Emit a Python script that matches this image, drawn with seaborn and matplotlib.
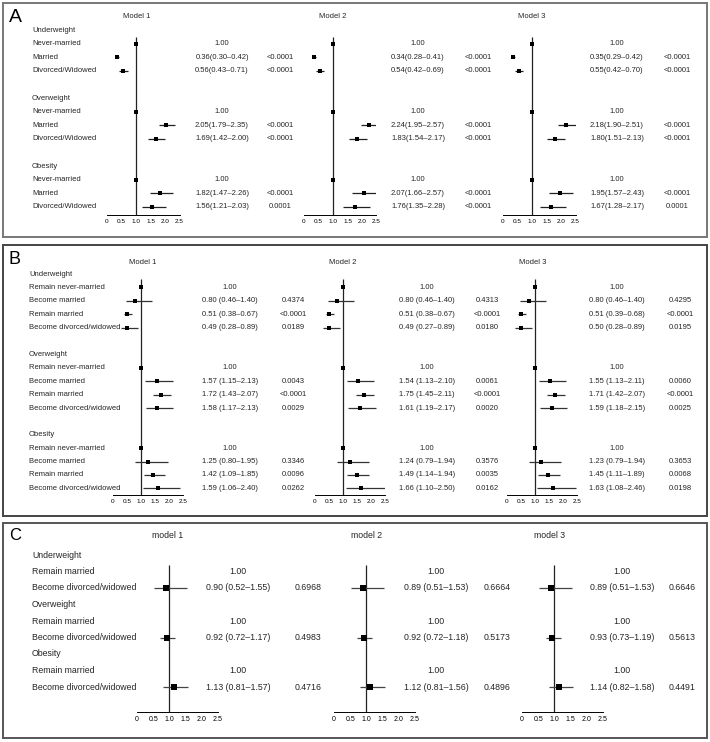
import numpy as np
import pandas as pd
import matplotlib
matplotlib.use("Agg")
import matplotlib.pyplot as plt
from matplotlib.patches import Rectangle
import seaborn as sns

# ---------------- data ----------------
A_groups = ["Underweight", "Overweight", "Obesity"]
A_cats = ["Never-married", "Married", "Divorced/Widowed"]
A_models = ["Model 1", "Model 2", "Model 3"]
A_or = [[1.00, 0.36, 0.56, 1.00, 2.05, 1.69, 1.00, 1.82, 1.56],
        [1.00, 0.34, 0.54, 1.00, 2.24, 1.83, 1.00, 2.07, 1.76],
        [1.00, 0.35, 0.55, 1.00, 2.18, 1.80, 1.00, 1.95, 1.67]]
A_lo = [[1.00, 0.30, 0.43, 1.00, 1.79, 1.42, 1.00, 1.47, 1.21],
        [1.00, 0.28, 0.42, 1.00, 1.95, 1.54, 1.00, 1.66, 1.35],
        [1.00, 0.29, 0.42, 1.00, 1.90, 1.51, 1.00, 1.57, 1.28]]
A_hi = [[1.00, 0.42, 0.71, 1.00, 2.35, 2.00, 1.00, 2.26, 2.03],
        [1.00, 0.41, 0.69, 1.00, 2.57, 2.17, 1.00, 2.57, 2.28],
        [1.00, 0.42, 0.70, 1.00, 2.51, 2.13, 1.00, 2.43, 2.17]]
A_p = [["", "<0.0001", "<0.0001", "", "<0.0001", "<0.0001", "", "<0.0001", "0.0001"],
       ["", "<0.0001", "<0.0001", "", "<0.0001", "<0.0001", "", "<0.0001", "<0.0001"],
       ["", "<0.0001", "<0.0001", "", "<0.0001", "<0.0001", "", "<0.0001", "0.0001"]]

B_groups = ["Underweight", "Overweight", "Obesity"]
B_cats = ["Remain never-married", "Become married", "Remain married", "Become divorced/widowed"]
B_models = ["Model 1", "Model 2", "Model 3"]
B_or = [[1.00, 0.80, 0.51, 0.49, 1.00, 1.57, 1.72, 1.58, 1.00, 1.25, 1.42, 1.59],
        [1.00, 0.80, 0.51, 0.49, 1.00, 1.54, 1.75, 1.61, 1.00, 1.24, 1.49, 1.66],
        [1.00, 0.80, 0.51, 0.50, 1.00, 1.55, 1.71, 1.59, 1.00, 1.23, 1.45, 1.63]]
B_lo = [[1.00, 0.46, 0.38, 0.28, 1.00, 1.15, 1.43, 1.17, 1.00, 0.80, 1.09, 1.06],
        [1.00, 0.46, 0.38, 0.27, 1.00, 1.13, 1.45, 1.19, 1.00, 0.79, 1.14, 1.10],
        [1.00, 0.46, 0.39, 0.28, 1.00, 1.13, 1.42, 1.18, 1.00, 0.79, 1.11, 1.08]]
B_hi = [[1.00, 1.40, 0.67, 0.89, 1.00, 2.13, 2.07, 2.13, 1.00, 1.95, 1.85, 2.40],
        [1.00, 1.40, 0.67, 0.89, 1.00, 2.10, 2.11, 2.17, 1.00, 1.94, 1.94, 2.50],
        [1.00, 1.40, 0.68, 0.89, 1.00, 2.11, 2.07, 2.15, 1.00, 1.94, 1.89, 2.46]]
B_p = [["", "0.4374", "<0.0001", "0.0189", "", "0.0043", "<0.0001", "0.0029", "", "0.3346", "0.0096", "0.0262"],
       ["", "0.4313", "<0.0001", "0.0180", "", "0.0061", "<0.0001", "0.0020", "", "0.3576", "0.0035", "0.0162"],
       ["", "0.4295", "<0.0001", "0.0195", "", "0.0060", "<0.0001", "0.0025", "", "0.3653", "0.0068", "0.0198"]]

C_groups = ["Underweight", "Overweight", "Obesity"]
C_cats = ["Remain married", "Become divorced/widowed"]
C_models = ["model 1", "model 2", "model 3"]
C_or = [[1.00, 0.90, 1.00, 0.92, 1.00, 1.13],
        [1.00, 0.89, 1.00, 0.92, 1.00, 1.12],
        [1.00, 0.89, 1.00, 0.93, 1.00, 1.14]]
C_lo = [[1.00, 0.52, 1.00, 0.72, 1.00, 0.81],
        [1.00, 0.51, 1.00, 0.72, 1.00, 0.81],
        [1.00, 0.51, 1.00, 0.73, 1.00, 0.82]]
C_hi = [[1.00, 1.55, 1.00, 1.17, 1.00, 1.57],
        [1.00, 1.53, 1.00, 1.18, 1.00, 1.56],
        [1.00, 1.53, 1.00, 1.19, 1.00, 1.58]]
C_p = [["", "0.6968", "", "0.4983", "", "0.4716"],
       ["", "0.6664", "", "0.5173", "", "0.4896"],
       ["", "0.6646", "", "0.5613", "", "0.4491"]]

x_ticks = [0, 0.5, 1.0, 1.5, 2.0, 2.5]
x_ticklabels = ["0", "0.5", "1.0", "1.5", "2.0", "2.5"]

# ---------------- style ----------------
sns.set_style("white")
plt.rcParams['font.family'] = ['Liberation Sans', 'DejaVu Sans']

W, H = 710, 742
fig = plt.figure(figsize=(W / 100, H / 100), dpi=100)
canvas = fig.add_axes([0, 0, 1, 1])
canvas.set_xlim(0, W)
canvas.set_ylim(H, 0)
canvas.axis("off")


def build_rows(groups, cats, blank_between=True):
    rows = []  # (row_index, label, is_header, data_idx)
    r = 0
    k = 0
    for gi, g in enumerate(groups):
        rows.append((r, g, True, None))
        r += 1
        for c in cats:
            rows.append((r, c, False, k))
            r += 1
            k += 1
        if blank_between and gi < len(groups) - 1:
            r += 1
    return rows


def draw_panel(lay, letter, groups, cats, models, ors, los, his, ps):
    x0, y0, x1, y1 = lay["box"]
    canvas.add_patch(Rectangle((x0, y0), x1 - x0, y1 - y0, fill=False,
                               edgecolor=lay["box_color"], lw=1.4))
    canvas.text(lay["letter_xy"][0], lay["letter_xy"][1], letter, fontsize=lay["letter_fs"],
                ha="left", va="center", color="black")
    rows = build_rows(groups, cats, lay["blank"])
    fs = lay["fs"]
    for (r, lab, hdr, k) in rows:
        y = lay["row0"] + r * lay["step"]
        canvas.text(lay["label_x"], y, lab, fontsize=fs, ha="left", va="center")
    for m in range(3):
        canvas.text(lay["title_x"][m], lay["title_y"], models[m], fontsize=fs,
                    ha="center", va="center")
        ax0 = lay["axis0"][m]
        sc = lay["scale"]
        top = lay["top"]
        axp = lay["axis_y"]
        ax = fig.add_axes([ax0 / W, 1 - axp / H, 2.5 * sc / W, (axp - top) / H])
        ax.set_facecolor("none")
        ylo = (axp - lay["row0"]) / lay["step"]
        yhi = (top - lay["row0"]) / lay["step"]
        data_rows = [(r, k) for (r, lab, hdr, k) in rows if not hdr]
        df = pd.DataFrame({
            "row": [r for r, k in data_rows],
            "OR": [ors[m][k] for r, k in data_rows],
            "lo": [los[m][k] for r, k in data_rows],
            "hi": [his[m][k] for r, k in data_rows],
            "ref": [ps[m][k] == "" for r, k in data_rows],
        })
        first_row = df["row"].min()
        ax.vlines(1.0, first_row - lay["vstart"], ylo, color="#222222", lw=0.9)
        ax.hlines(df["row"], df["lo"], df["hi"], color=lay["ci_color"], lw=0.9)
        pts = df if lay["ref_marker"] else df[~df["ref"]]
        sns.scatterplot(data=pts, x="OR", y="row", marker="s", color="black",
                        s=lay["ms"], linewidth=0, ax=ax, legend=False, zorder=5,
                        clip_on=False)
        ax.set_xlim(0, 2.5)
        ax.set_ylim(ylo, yhi)
        ax.set_yticks([])
        ax.set_xticks(x_ticks)
        ax.set_xticklabels(x_ticklabels)
        ax.set_xlabel("")
        ax.set_ylabel("")
        for s in ["top", "right", "left"]:
            ax.spines[s].set_visible(False)
        ax.spines["bottom"].set_color("black")
        ax.spines["bottom"].set_linewidth(0.7)
        ax.tick_params(axis="x", direction="in", length=3, width=0.6,
                       labelsize=lay["tfs"], pad=3, colors="black")
        for (r, lab, hdr, k) in rows:
            if hdr:
                continue
            y = lay["row0"] + r * lay["step"]
            p = ps[m][k]
            if p == "":
                txt = "1.00"
            else:
                txt = f"{ors[m][k]:.2f}{lay['sep']}({los[m][k]:.2f}\u2013{his[m][k]:.2f})"
            canvas.text(lay["or_x"][m], y, txt, fontsize=fs, ha="center", va="center")
            if p:
                canvas.text(lay["p_x"][m], y, p, fontsize=fs, ha="center", va="center")


layA = dict(box=(3, 3, 707, 237), letter_xy=(9, 18), letter_fs=14, row0=30, step=13.6,
            label_x=32, title_x=[137, 333, 532], title_y=17, axis0=[107, 304, 503],
            scale=29, top=24, axis_y=215, or_x=[222, 418, 617], p_x=[280, 478, 677],
            fs=5.5, tfs=4.6, ms=9, vstart=0.45, blank=True, sep="",
            ref_marker=True, ci_color="#222222", box_color="#777777")
layB = dict(box=(3, 245, 707, 516), letter_xy=(9, 259), letter_fs=13, row0=274, step=13.4,
            label_x=29, title_x=[143, 343, 533], title_y=262, axis0=[113, 315, 507],
            scale=28, top=268, axis_y=495, or_x=[230, 427, 617], p_x=[293, 487, 680],
            fs=5.5, tfs=4.6, ms=9, vstart=0.6, blank=True, sep=" ",
            ref_marker=True, ci_color="#333333", box_color="#444444")
layC = dict(box=(3, 523, 707, 738), letter_xy=(9, 535), letter_fs=12, row0=555, step=16.5,
            label_x=32, title_x=[168, 367, 550], title_y=535, axis0=[137, 334, 522],
            scale=32.4, top=545, axis_y=712, or_x=[238, 436, 622], p_x=[308, 497, 682],
            fs=6.3, tfs=5.0, ms=20, vstart=0.4, blank=False, sep=" ",
            ref_marker=False, ci_color="#444444", box_color="#555555")

draw_panel(layA, "A", A_groups, A_cats, A_models, A_or, A_lo, A_hi, A_p)
draw_panel(layB, "B", B_groups, B_cats, B_models, B_or, B_lo, B_hi, B_p)
draw_panel(layC, "C", C_groups, C_cats, C_models, C_or, C_lo, C_hi, C_p)

fig.savefig("out.png", dpi=100)
